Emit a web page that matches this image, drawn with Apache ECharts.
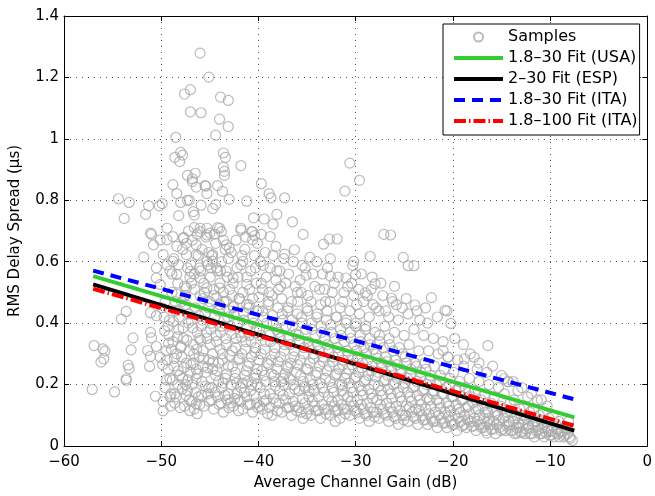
<!DOCTYPE html>
<html>
<head>
<meta charset="utf-8">
<script src="https://cdn.jsdelivr.net/npm/echarts@6/dist/echarts.min.js"></script>
<style>
html,body{margin:0;padding:0;background:#fff;}
#chart{width:655px;height:496px;}
</style>
</head>
<body>
<div id="chart"></div>
<script>
// ---------- data ----------
var xTicks = [-60, -50, -40, -30, -20, -10, 0];
var yTicks = [0, 0.2, 0.4, 0.6, 0.8, 1, 1.2, 1.4];

var samplesUpper = [
[-46.0,1.279],[-45.1,1.201],[-47.0,1.160],[-47.6,1.146],[-43.9,1.136],[-43.1,1.125],[-47.0,1.088],[-45.9,1.085],[-44.0,1.064],[-43.1,1.040],[-44.4,1.012],[-48.5,1.005],[-48.0,0.956],[-48.6,0.940],[-47.8,0.947],[-48.1,0.926],[-43.6,0.954],[-43.4,0.940],[-41.8,0.913],[-43.6,0.908],[-43.5,0.894],[-43.5,0.881],[-47.3,0.881],[-46.5,0.888],[-46.8,0.861],[-48.8,0.851],[-45.5,0.848],[-44.2,0.848],[-39.7,0.854],
[-54.4,0.805],[-53.3,0.793],[-53.8,0.741],[-51.6,0.754],[-51.3,0.782],[-50.2,0.782],[-49.9,0.789],[-51.0,0.689],[-49.4,0.709],[-48.4,0.822],[-48.0,0.793],[-48.2,0.750],[-46.8,0.870],[-46.4,0.843],[-45.4,0.846],[-45.3,0.822],[-47.3,0.800],[-47.1,0.800],[-45.9,0.784],[-46.7,0.763],[-46.6,0.752],[-44.7,0.773],[-44.4,0.786],[-43.7,0.829],[-43.0,0.803],[-41.2,0.797],[-38.9,0.822],[-38.7,0.808],[-37.3,0.808],[-40.5,0.743],[-39.4,0.739],[-38.1,0.754],[-38.5,0.722],[-36.5,0.730],[-35.4,0.689],[-39.7,0.689],[-38.8,0.682],[-41.8,0.709],[-40.7,0.698],[-40.4,0.685],[-46.6,0.711],[-46.0,0.698],[-45.3,0.709],[-45.0,0.693],[-44.2,0.711],[-43.8,0.698],[-47.7,0.679],[-48.8,0.682],[-49.4,0.671],[-33.3,0.657],
[-30.6,0.921],[-29.6,0.865],[-31.1,0.830],[-27.1,0.689],[-26.4,0.687],[-32.7,0.674],[-31.9,0.674],
[-38.2,0.650],[-36.3,0.639],[-37.3,0.625],[-34.7,0.614],[-32.6,0.610],[-28.5,0.617],[-25.1,0.614],[-24.6,0.587],[-24.0,0.587],[-30.2,0.601],[-30.3,0.588],[-35.5,0.588],[-39.5,0.588],[-32.6,0.553],[-35.1,0.556],[-31.0,0.547],[-30.0,0.558],[-28.3,0.550],[-28.0,0.528],[-22.2,0.483],[-23.9,0.459],[-20.8,0.442],[-26.3,0.481],[-29.0,0.499],
[-20.6,0.440],[-20.2,0.399],[-16.4,0.327],[-18.8,0.284],[-17.8,0.289],[-14.7,0.219],[-14.3,0.209],[-16.5,0.042],[-13.4,0.042],[-7.7,0.018],[-21.0,0.311],[-20.5,0.289]
];

var samplesLeft = [
[-53.6,0.438],[-54.1,0.413],[-56.9,0.327],[-56.0,0.316],[-55.8,0.309],[-55.9,0.284],[-56.2,0.273],[-52.9,0.352],[-53.1,0.313],[-53.4,0.263],[-53.3,0.252],[-53.6,0.219],[-53.6,0.214],[-57.1,0.184],[-54.8,0.176],[-51.1,0.370],[-51.0,0.352],[-51.4,0.311],[-51.1,0.292],[-51.2,0.259],[-50.6,0.162],[-49.8,0.144],[-49.8,0.115],[-49.1,0.160],[-46.4,0.137],[-46.3,0.105],[-50.5,0.324],[-50.1,0.289],[-51.1,0.434],[-50.5,0.424],
[-51.8,0.615],[-51.1,0.693],[-50.8,0.655],[-50.1,0.671],[-49.8,0.623],[-50.5,0.580],[-50.5,0.547],[-49.4,0.590],[-48.8,0.601],[-49.1,0.569],[-48.4,0.558],[-47.4,0.623],[-46.4,0.623],[-45.3,0.601],[-44.7,0.601],[-44.3,0.580],[-43.3,0.655],[-43.0,0.644],[-41.8,0.703],[-40.6,0.698],[-40.6,0.671],[-41.6,0.601],[-42.6,0.547],[-41.2,0.526],[-46.0,0.709],[-45.3,0.687],[-44.0,0.709],[-47.7,0.676],[-46.4,0.655],[-44.7,0.623],[-43.3,0.569],[-47.0,0.569],[-46.0,0.547],[-45.3,0.515],[-44.0,0.515],[-47.4,0.515],[-48.4,0.494],[-50.1,0.526],[-44.3,0.483],[-43.3,0.472],[-42.6,0.451],[-41.2,0.461],[-40.2,0.440]
];

var samplesCoreA = [
[-49.6,0.19],[-49.3,0.25],[-49.5,0.31],[-49.2,0.36],[-49.7,0.42],[-49.4,0.28],[-49.1,0.22],[-49.6,0.47],[-49.3,0.39],[-49.0,0.17],
[-48.6,0.14],[-48.3,0.20],[-48.7,0.26],[-48.4,0.30],[-48.8,0.34],[-48.2,0.38],[-48.5,0.44],[-48.9,0.50],[-48.1,0.23],[-48.6,0.17],[-48.3,0.53],[-48.7,0.61],[-48.4,0.65],[-48.0,0.32],
[-47.6,0.13],[-47.3,0.18],[-47.8,0.22],[-47.4,0.27],[-47.1,0.31],[-47.7,0.35],[-47.2,0.40],[-47.5,0.46],[-47.9,0.29],[-47.0,0.24],[-47.6,0.52],[-47.3,0.58],[-47.8,0.64],[-47.2,0.70],[-47.5,0.20],[-47.1,0.15],
[-46.6,0.12],[-46.2,0.16],[-46.8,0.20],[-46.4,0.25],[-46.1,0.29],[-46.7,0.33],[-46.3,0.37],[-46.9,0.41],[-46.5,0.45],[-46.0,0.49],[-46.6,0.56],[-46.2,0.62],[-46.8,0.67],[-46.4,0.22],[-46.1,0.35],[-46.7,0.27],
[-45.6,0.13],[-45.2,0.17],[-45.8,0.21],[-45.4,0.24],[-45.1,0.28],[-45.7,0.31],[-45.3,0.35],[-45.9,0.39],[-45.5,0.43],[-45.0,0.47],[-45.6,0.53],[-45.2,0.59],[-45.8,0.64],[-45.4,0.68],[-45.1,0.19],[-45.7,0.26],
[-44.6,0.12],[-44.2,0.16],[-44.8,0.19],[-44.4,0.23],[-44.1,0.27],[-44.7,0.30],[-44.3,0.34],[-44.9,0.38],[-44.5,0.42],[-44.0,0.46],[-44.6,0.51],[-44.2,0.57],[-44.8,0.62],[-44.4,0.66],[-44.1,0.21],[-44.7,0.25],
[-43.6,0.11],[-43.2,0.15],[-43.8,0.19],[-43.4,0.22],[-43.1,0.26],[-43.7,0.30],[-43.3,0.33],[-43.9,0.37],[-43.5,0.41],[-43.0,0.44],[-43.6,0.50],[-43.2,0.55],[-43.8,0.60],[-43.4,0.64],[-43.1,0.17],[-43.7,0.28],
[-42.6,0.13],[-42.2,0.17],[-42.8,0.20],[-42.4,0.24],[-42.1,0.28],[-42.7,0.31],[-42.3,0.35],[-42.9,0.39],[-42.5,0.43],[-42.0,0.48],[-42.6,0.53],[-42.2,0.58],[-42.8,0.63],[-42.4,0.22],[-42.1,0.15],
[-41.6,0.12],[-41.2,0.16],[-41.8,0.19],[-41.4,0.23],[-41.1,0.26],[-41.7,0.30],[-41.3,0.34],[-41.9,0.37],[-41.5,0.41],[-41.0,0.45],[-41.6,0.50],[-41.2,0.55],[-41.8,0.59],[-41.4,0.64],[-41.1,0.21],
[-40.6,0.11],[-40.2,0.14],[-40.8,0.18],[-40.4,0.22],[-40.1,0.25],[-40.7,0.29],[-40.3,0.32],[-40.9,0.36],[-40.5,0.40],[-40.0,0.44],[-40.6,0.48],[-40.2,0.53],[-40.8,0.57],[-40.4,0.62],[-40.1,0.20],
[-39.6,0.12],[-39.2,0.15],[-39.8,0.19],[-39.4,0.23],[-39.1,0.27],[-39.7,0.30],[-39.3,0.34],[-39.9,0.38],[-39.5,0.42],[-39.0,0.46],[-39.6,0.51],[-39.2,0.55],[-39.8,0.60],[-39.4,0.17]
];

var samplesCoreB = [
[-38.6,0.10],[-38.2,0.14],[-38.8,0.17],[-38.4,0.21],[-38.1,0.25],[-38.7,0.28],[-38.3,0.32],[-38.9,0.36],[-38.5,0.40],[-38.0,0.45],[-38.6,0.49],[-38.2,0.54],[-38.8,0.58],[-38.4,0.23],
[-37.6,0.11],[-37.2,0.15],[-37.8,0.18],[-37.4,0.22],[-37.1,0.26],[-37.7,0.29],[-37.3,0.33],[-37.9,0.37],[-37.5,0.41],[-37.0,0.44],[-37.6,0.48],[-37.2,0.53],[-37.8,0.57],[-37.4,0.20],
[-36.6,0.10],[-36.2,0.13],[-36.8,0.17],[-36.4,0.20],[-36.1,0.24],[-36.7,0.27],[-36.3,0.31],[-36.9,0.35],[-36.5,0.39],[-36.0,0.43],[-36.6,0.47],[-36.2,0.52],[-36.8,0.22],
[-35.6,0.11],[-35.2,0.14],[-35.8,0.18],[-35.4,0.21],[-35.1,0.25],[-35.7,0.28],[-35.3,0.32],[-35.9,0.36],[-35.5,0.40],[-35.0,0.45],[-35.6,0.50],[-35.2,0.19],[-35.4,0.09],
[-34.6,0.10],[-34.2,0.13],[-34.8,0.16],[-34.4,0.20],[-34.1,0.23],[-34.7,0.27],[-34.3,0.30],[-34.9,0.34],[-34.5,0.38],[-34.0,0.42],[-34.6,0.47],[-34.2,0.52],[-34.8,0.18],
[-33.6,0.09],[-33.2,0.12],[-33.8,0.16],[-33.4,0.19],[-33.1,0.22],[-33.7,0.26],[-33.3,0.29],[-33.9,0.33],[-33.5,0.37],[-33.0,0.41],[-33.6,0.46],[-33.2,0.51],[-33.4,0.56],
[-32.6,0.10],[-32.2,0.13],[-32.8,0.16],[-32.4,0.19],[-32.1,0.23],[-32.7,0.26],[-32.3,0.29],[-32.9,0.33],[-32.5,0.37],[-32.0,0.42],[-32.6,0.47],[-32.2,0.53],[-32.1,0.08],
[-31.6,0.09],[-31.2,0.12],[-31.8,0.15],[-31.4,0.18],[-31.1,0.22],[-31.7,0.25],[-31.3,0.28],[-31.9,0.32],[-31.5,0.36],[-31.0,0.40],[-31.6,0.45],[-31.2,0.50],[-31.4,0.20],
[-30.6,0.10],[-30.2,0.13],[-30.8,0.16],[-30.4,0.19],[-30.1,0.22],[-30.7,0.25],[-30.3,0.28],[-30.9,0.31],[-30.5,0.35],[-30.0,0.39],[-30.6,0.44],[-30.2,0.49],[-30.4,0.53],
[-29.6,0.09],[-29.2,0.12],[-29.8,0.15],[-29.4,0.18],[-29.1,0.21],[-29.7,0.24],[-29.3,0.27],[-29.9,0.31],[-29.5,0.34],[-29.0,0.38],[-29.6,0.43],[-29.2,0.47],[-29.4,0.56],
[-28.6,0.08],[-28.2,0.11],[-28.8,0.14],[-28.4,0.17],[-28.1,0.20],[-28.7,0.23],[-28.3,0.26],[-28.9,0.30],[-28.5,0.33],[-28.0,0.37],[-28.6,0.42],[-28.2,0.46],[-28.4,0.51],
[-27.6,0.09],[-27.2,0.12],[-27.8,0.15],[-27.4,0.18],[-27.1,0.21],[-27.7,0.24],[-27.3,0.27],[-27.9,0.30],[-27.5,0.34],[-27.0,0.39],[-27.6,0.44],[-27.2,0.49],
[-26.6,0.08],[-26.2,0.11],[-26.8,0.14],[-26.4,0.17],[-26.1,0.20],[-26.7,0.23],[-26.3,0.26],[-26.9,0.29],[-26.5,0.33],[-26.0,0.37],[-26.6,0.42],[-26.2,0.47],
[-25.6,0.07],[-25.2,0.10],[-25.8,0.13],[-25.4,0.16],[-25.1,0.19],[-25.7,0.22],[-25.3,0.25],[-25.9,0.28],[-25.5,0.32],[-25.0,0.36],[-25.6,0.41],[-25.2,0.45]
];

var samplesCoreC = [
[-49.05,0.13],[-49.45,0.215],[-49.85,0.265],[-49.25,0.335],[-49.65,0.375],[-49.95,0.45],[-49.15,0.41],
[-48.05,0.125],[-48.45,0.16],[-48.85,0.215],[-48.25,0.245],[-48.65,0.285],[-48.95,0.315],[-48.35,0.355],[-48.75,0.405],[-48.15,0.42],[-48.55,0.47],
[-47.05,0.115],[-47.45,0.165],[-47.85,0.185],[-47.25,0.215],[-47.65,0.255],[-47.95,0.325],[-47.35,0.345],[-47.75,0.385],[-47.15,0.43],[-47.55,0.49],[-47.05,0.55],
[-46.05,0.135],[-46.45,0.175],[-46.85,0.145],[-46.25,0.235],[-46.65,0.30],[-46.95,0.265],[-46.35,0.315],[-46.75,0.385],[-46.15,0.425],[-46.55,0.51],[-46.95,0.59],
[-45.05,0.145],[-45.45,0.195],[-45.85,0.165],[-45.25,0.255],[-45.65,0.285],[-45.95,0.345],[-45.35,0.37],[-45.75,0.41],[-45.15,0.45],[-45.55,0.50],[-45.95,0.57],
[-44.05,0.135],[-44.45,0.175],[-44.85,0.15],[-44.25,0.245],[-44.65,0.275],[-44.95,0.33],[-44.35,0.36],[-44.75,0.40],[-44.15,0.44],[-44.55,0.49],[-44.95,0.55],
[-43.05,0.125],[-43.45,0.165],[-43.85,0.14],[-43.25,0.235],[-43.65,0.205],[-43.95,0.315],[-43.35,0.35],[-43.75,0.39],[-43.15,0.42],[-43.55,0.47],[-43.95,0.53],
[-42.05,0.115],[-42.45,0.155],[-42.85,0.14],[-42.25,0.205],[-42.65,0.26],[-42.95,0.295],[-42.35,0.32],[-42.75,0.365],[-42.15,0.40],[-42.55,0.455],[-42.95,0.51],
[-41.05,0.135],[-41.45,0.175],[-41.85,0.145],[-41.25,0.245],[-41.65,0.205],[-41.95,0.285],[-41.35,0.315],[-41.75,0.355],[-41.15,0.39],[-41.55,0.435],[-41.95,0.48],
[-40.05,0.125],[-40.45,0.165],[-40.85,0.135],[-40.25,0.235],[-40.65,0.20],[-40.95,0.27],[-40.35,0.305],[-40.75,0.34],[-40.15,0.38],[-40.55,0.42],[-40.95,0.46],
[-39.05,0.105],[-39.45,0.145],[-39.85,0.13],[-39.25,0.21],[-39.65,0.245],[-39.95,0.28],[-39.35,0.315],[-39.75,0.36],[-39.15,0.40],[-39.55,0.44],[-39.95,0.485],
[-38.05,0.115],[-38.45,0.155],[-38.85,0.125],[-38.25,0.195],[-38.65,0.235],[-38.95,0.265],[-38.35,0.30],[-38.75,0.34],[-38.15,0.38],[-38.55,0.425],[-38.95,0.47],
[-37.05,0.125],[-37.45,0.165],[-37.85,0.14],[-37.25,0.235],[-37.65,0.21],[-37.95,0.275],[-37.35,0.31],[-37.75,0.35],[-37.15,0.39],[-37.55,0.43],[-37.95,0.51],
[-36.05,0.115],[-36.45,0.145],[-36.85,0.125],[-36.25,0.185],[-36.65,0.215],[-36.95,0.255],[-36.35,0.29],[-36.75,0.33],[-36.15,0.365],[-36.55,0.41],[-36.95,0.45],
[-35.05,0.105],[-35.45,0.155],[-35.85,0.125],[-35.25,0.195],[-35.65,0.23],[-35.95,0.265],[-35.35,0.30],[-35.75,0.34],[-35.15,0.38],[-35.55,0.42],[-35.95,0.47],
[-34.05,0.115],[-34.45,0.145],[-34.85,0.12],[-34.25,0.18],[-34.65,0.215],[-34.95,0.25],[-34.35,0.285],[-34.75,0.32],[-34.15,0.36],[-34.55,0.40],[-34.95,0.44],
[-33.05,0.105],[-33.45,0.135],[-33.85,0.115],[-33.25,0.175],[-33.65,0.205],[-33.95,0.24],[-33.35,0.275],[-33.75,0.31],[-33.15,0.35],[-33.55,0.39],[-33.95,0.43],
[-32.05,0.115],[-32.45,0.145],[-32.85,0.12],[-32.25,0.175],[-32.65,0.21],[-32.95,0.245],[-32.35,0.275],[-32.75,0.31],[-32.15,0.35],[-32.55,0.395],[-32.95,0.44],
[-31.05,0.105],[-31.45,0.135],[-31.85,0.115],[-31.25,0.165],[-31.65,0.20],[-31.95,0.235],[-31.35,0.265],[-31.75,0.30],[-31.15,0.34],[-31.55,0.38],[-31.95,0.42],
[-30.05,0.115],[-30.45,0.145],[-30.85,0.12],[-30.25,0.175],[-30.65,0.205],[-30.95,0.235],[-30.35,0.265],[-30.75,0.295],[-30.15,0.33],[-30.55,0.37],[-30.95,0.41],
[-29.05,0.105],[-29.45,0.135],[-29.85,0.11],[-29.25,0.165],[-29.65,0.195],[-29.95,0.225],[-29.35,0.255],[-29.75,0.29],[-29.15,0.32],[-29.55,0.36],[-29.95,0.40],
[-28.05,0.095],[-28.45,0.125],[-28.85,0.10],[-28.25,0.155],[-28.65,0.185],[-28.95,0.215],[-28.35,0.245],[-28.75,0.28],[-28.15,0.315],[-28.55,0.35],[-28.95,0.39],
[-27.05,0.105],[-27.45,0.135],[-27.85,0.11],[-27.25,0.165],[-27.65,0.195],[-27.95,0.225],[-27.35,0.255],[-27.75,0.285],[-27.15,0.32],[-27.55,0.36],
[-26.05,0.095],[-26.45,0.125],[-26.85,0.10],[-26.25,0.155],[-26.65,0.185],[-26.95,0.215],[-26.35,0.245],[-26.75,0.275],[-26.15,0.31],[-26.55,0.35],
[-25.05,0.085],[-25.45,0.115],[-25.85,0.09],[-25.25,0.145],[-25.65,0.175],[-25.95,0.205],[-25.35,0.235],[-25.75,0.265],[-25.15,0.30]
];

var samplesTail = [
[-24.6,0.08],[-24.2,0.11],[-24.8,0.13],[-24.4,0.16],[-24.1,0.19],[-24.7,0.22],[-24.3,0.25],[-24.9,0.29],[-24.5,0.33],[-24.0,0.38],[-24.6,0.43],
[-23.6,0.07],[-23.2,0.10],[-23.8,0.12],[-23.4,0.15],[-23.1,0.18],[-23.7,0.21],[-23.3,0.24],[-23.9,0.27],[-23.5,0.31],[-23.0,0.36],[-23.4,0.41],
[-22.6,0.07],[-22.2,0.09],[-22.8,0.12],[-22.4,0.15],[-22.1,0.17],[-22.7,0.20],[-22.3,0.23],[-22.9,0.27],[-22.5,0.31],[-22.0,0.35],[-22.6,0.40],
[-21.6,0.06],[-21.2,0.09],[-21.8,0.11],[-21.4,0.14],[-21.1,0.17],[-21.7,0.20],[-21.3,0.23],[-21.9,0.26],[-21.5,0.30],[-21.0,0.34],
[-20.6,0.06],[-20.2,0.08],[-20.8,0.11],[-20.4,0.13],[-20.1,0.16],[-20.7,0.19],[-20.3,0.22],[-20.9,0.25],[-20.5,0.29],
[-19.6,0.05],[-19.2,0.08],[-19.8,0.10],[-19.4,0.12],[-19.1,0.15],[-19.7,0.18],[-19.3,0.21],[-19.9,0.24],[-19.5,0.28],
[-18.6,0.06],[-18.2,0.08],[-18.8,0.10],[-18.4,0.13],[-18.1,0.16],[-18.7,0.19],[-18.3,0.22],[-18.9,0.26],
[-17.6,0.05],[-17.2,0.07],[-17.8,0.09],[-17.4,0.12],[-17.1,0.15],[-17.7,0.18],[-17.3,0.21],[-17.5,0.25],
[-16.6,0.05],[-16.2,0.07],[-16.8,0.09],[-16.4,0.11],[-16.1,0.14],[-16.7,0.17],[-16.3,0.20],[-16.5,0.24],
[-15.6,0.04],[-15.2,0.06],[-15.8,0.08],[-15.4,0.10],[-15.1,0.13],[-15.7,0.16],[-15.3,0.19],
[-14.6,0.05],[-14.2,0.07],[-14.8,0.09],[-14.4,0.11],[-14.1,0.14],[-14.7,0.17],[-14.3,0.21],
[-13.6,0.04],[-13.2,0.06],[-13.8,0.08],[-13.4,0.10],[-13.1,0.12],[-13.7,0.15],[-13.3,0.18],
[-12.6,0.04],[-12.2,0.06],[-12.8,0.07],[-12.4,0.09],[-12.1,0.11],[-12.7,0.13],[-12.3,0.16],
[-11.6,0.03],[-11.2,0.05],[-11.8,0.07],[-11.4,0.08],[-11.1,0.10],[-11.7,0.12],[-11.3,0.15],
[-10.6,0.03],[-10.2,0.05],[-10.8,0.06],[-10.4,0.08],[-10.1,0.09],[-10.7,0.11],[-10.3,0.13],
[-9.6,0.03],[-9.2,0.04],[-9.8,0.05],[-9.4,0.07],[-9.1,0.08],[-9.7,0.10],
[-8.6,0.03],[-8.2,0.04],[-8.8,0.05],[-8.4,0.06],[-8.1,0.08],[-8.0,0.03]
];

var samplesTailB = [
[-24.05,0.095],[-24.45,0.125],[-24.85,0.10],[-24.25,0.145],[-24.65,0.175],[-24.95,0.205],[-24.35,0.235],[-24.75,0.27],
[-23.05,0.085],[-23.45,0.115],[-23.85,0.09],[-23.25,0.135],[-23.65,0.165],[-23.95,0.195],[-23.35,0.225],[-23.75,0.26],
[-22.05,0.08],[-22.45,0.105],[-22.85,0.085],[-22.25,0.13],[-22.65,0.155],[-22.95,0.185],[-22.35,0.215],[-22.75,0.25],
[-21.05,0.075],[-21.45,0.10],[-21.85,0.08],[-21.25,0.125],[-21.65,0.15],[-21.95,0.18],[-21.35,0.21],
[-20.05,0.07],[-20.45,0.095],[-20.85,0.075],[-20.25,0.115],[-20.65,0.14],[-20.95,0.17],[-20.35,0.20],
[-19.05,0.065],[-19.45,0.09],[-19.85,0.07],[-19.25,0.11],[-19.65,0.135],[-19.95,0.16],[-19.35,0.19],
[-18.05,0.065],[-18.45,0.085],[-18.85,0.07],[-18.25,0.105],[-18.65,0.125],[-18.95,0.15],[-18.35,0.175],
[-17.05,0.06],[-17.45,0.08],[-17.85,0.065],[-17.25,0.10],[-17.65,0.12],[-17.95,0.14],
[-16.05,0.055],[-16.45,0.075],[-16.85,0.06],[-16.25,0.09],[-16.65,0.11],[-16.95,0.13],
[-15.05,0.05],[-15.45,0.07],[-15.85,0.055],[-15.25,0.085],[-15.65,0.105],[-15.95,0.125],
[-14.05,0.05],[-14.45,0.065],[-14.85,0.055],[-14.25,0.08],[-14.65,0.10],[-14.95,0.12],
[-13.05,0.045],[-13.45,0.06],[-13.85,0.05],[-13.25,0.075],[-13.65,0.09],[-13.95,0.11],
[-12.05,0.04],[-12.45,0.055],[-12.85,0.045],[-12.25,0.07],[-12.65,0.085],[-12.95,0.10],
[-11.05,0.04],[-11.45,0.05],[-11.85,0.04],[-11.25,0.065],[-11.65,0.08],[-11.95,0.095],
[-10.05,0.035],[-10.45,0.045],[-10.85,0.04],[-10.25,0.06],[-10.65,0.07],[-10.95,0.085],
[-9.05,0.03],[-9.45,0.045],[-9.85,0.035],[-9.25,0.055],[-9.65,0.065],
[-8.45,0.035],[-8.85,0.045],[-8.25,0.055],[-7.9,0.025]
];

var samplesMid = [
[-48.9,0.56],[-48.2,0.59],[-47.9,0.47],[-47.4,0.66],[-46.9,0.53],[-46.3,0.69],[-46.1,0.58],[-45.7,0.48],[-45.1,0.63],[-44.9,0.58],[-44.5,0.69],[-43.9,0.57],[-43.6,0.67],[-43.1,0.61],[-42.7,0.49],[-42.3,0.67],[-42.1,0.55],[-41.7,0.62],[-41.3,0.68],[-40.9,0.51],[-40.3,0.58],[-40.1,0.66],[-39.7,0.53],[-39.3,0.63],[-38.9,0.50],[-38.5,0.62],[-38.1,0.57],[-37.7,0.52],[-37.4,0.61],[-36.9,0.56],[-36.4,0.60],[-36.0,0.50],[-35.7,0.54],[-35.2,0.58],[-34.9,0.49],[-34.4,0.56],[-34.0,0.60],[-33.7,0.51],[-33.1,0.47],[-32.9,0.58],[-32.4,0.50],[-31.8,0.55],[-31.3,0.47],[-30.8,0.52],[-29.9,0.46],[-29.7,0.51],[-28.8,0.49],[-27.9,0.45],[-27.4,0.53],[-26.9,0.44],[-26.0,0.52],[-25.8,0.46],[-24.8,0.48],[-23.7,0.44],[-22.8,0.45],[-21.6,0.42],[-19.8,0.35],[-18.9,0.33],[-18.2,0.30],[-17.3,0.27],[-15.9,0.26],[-15.0,0.23],[-13.8,0.21],[-12.9,0.19],[-11.9,0.17],[-10.9,0.15]
];

var fitX = [-57, -7.5];
var fitUSA = [0.553, 0.093];
var fitESP = [0.526, 0.050];
var fitITA30 = [0.571, 0.152];
var fitITA100 = [0.512, 0.066];

var seriesNames = ['Samples', '1.8\u201330 Fit (USA)', '2\u201330 Fit (ESP)', '1.8\u201330 Fit (ITA)', '1.8\u2013100 Fit (ITA)'];

// ---------- chart ----------
var samples = [].concat(samplesLeft, samplesCoreA, samplesCoreB, samplesCoreC, samplesTail, samplesTailB, samplesMid, samplesUpper);
function pairs(ys){ return fitX.map(function(x,i){ return [x, ys[i]]; }); }

var FONT = 'DejaVu Sans';
var chart = echarts.init(document.getElementById('chart'), null, {renderer:'canvas'});

var axisCommon = {
  axisLine:{show:true, onZero:false, lineStyle:{color:'#000', width:1}},
  axisTick:{show:true, inside:true, length:5, lineStyle:{color:'#000'}}
};

function fmtX(v){ return v < 0 ? '\u2212' + Math.abs(v) : String(v); }
function fmtY(v){ return String(parseFloat(v.toFixed(1))); }

var legendData = seriesNames.map(function(n, i){
  if (i === 0) return {name:n};
  return {name:n, itemStyle:{opacity:0}, lineStyle:{width:4}};
});

chart.setOption({
  animation:false,
  backgroundColor:'#fff',
  textStyle:{fontFamily:FONT},
  grid:{left:63, right:5, top:16, bottom:46, containLabel:false},
  xAxis:[
    Object.assign({type:'value', min:xTicks[0], max:xTicks[xTicks.length-1], interval:10, position:'bottom',
      name:'Average Channel Gain (dB)', nameLocation:'middle', nameGap:30,
      nameTextStyle:{fontFamily:FONT, fontSize:15, color:'#000'},
      axisLabel:{fontFamily:FONT, fontSize:15, color:'#000', margin:9, formatter:fmtX},
      splitLine:{show:true, lineStyle:{color:'#555', type:[1,5], width:1}}}, axisCommon),
    Object.assign({type:'value', min:xTicks[0], max:xTicks[xTicks.length-1], interval:10, position:'top',
      axisLabel:{show:false}, splitLine:{show:false}}, axisCommon)
  ],
  yAxis:[
    Object.assign({type:'value', min:yTicks[0], max:yTicks[yTicks.length-1], interval:0.2, position:'left',
      name:'RMS Delay Spread (\u00b5s)', nameLocation:'middle', nameGap:41,
      nameTextStyle:{fontFamily:FONT, fontSize:15, color:'#000'},
      axisLabel:{fontFamily:FONT, fontSize:15, color:'#000', margin:5, formatter:fmtY},
      splitLine:{show:true, lineStyle:{color:'#555', type:[1,5], width:1}}}, axisCommon),
    Object.assign({type:'value', min:yTicks[0], max:yTicks[yTicks.length-1], interval:0.2, position:'right',
      axisLabel:{show:false}, splitLine:{show:false}}, axisCommon)
  ],
  legend:{
    show:true, orient:'vertical', left:443, top:24,
    backgroundColor:'#fff', borderColor:'#000', borderWidth:1, borderRadius:0,
    padding:[4,2,5,9], itemWidth:49, itemHeight:9, itemGap:3,
    textStyle:{fontFamily:FONT, fontSize:16, color:'#000', lineHeight:18},
    data:legendData
  },
  series:[
    {name:seriesNames[0], type:'scatter', data:samples, symbol:'circle', symbolSize:10,
      itemStyle:{color:'rgba(0,0,0,0)', borderColor:'#aaaaaa', borderWidth:1.2}, z:1},
    {name:seriesNames[1], type:'line', data:pairs(fitUSA), symbol:'none',
      lineStyle:{color:'#33cc33', width:4}, itemStyle:{color:'#33cc33'}, z:3},
    {name:seriesNames[2], type:'line', data:pairs(fitESP), symbol:'none',
      lineStyle:{color:'#000', width:4}, itemStyle:{color:'#000'}, z:3},
    {name:seriesNames[3], type:'line', data:pairs(fitITA30), symbol:'none',
      lineStyle:{color:'#0000ff', width:4, type:[11,7]}, itemStyle:{color:'#0000ff'}, z:3},
    {name:seriesNames[4], type:'line', data:pairs(fitITA100), symbol:'none',
      lineStyle:{color:'#ff0000', width:4, type:[12,3,1.5,3]}, itemStyle:{color:'#ff0000'}, z:3}
  ]
});
</script>
</body>
</html>
